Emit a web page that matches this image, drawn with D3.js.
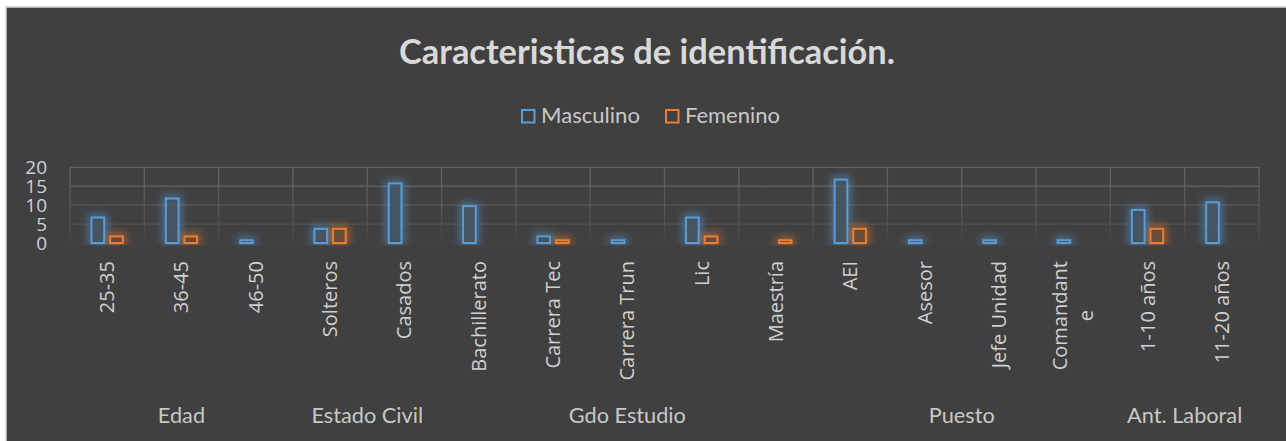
<!DOCTYPE html>
<html><head><meta charset="utf-8">
<script src="https://cdn.jsdelivr.net/npm/d3@7"></script>
<style>html,body{margin:0;padding:0;background:#fff;overflow:hidden}</style>
</head><body><svg id="c" width="1286" height="441"></svg>
<script>
const categories = ["25-35","36-45","46-50","Solteros","Casados","Bachillerato","Carrera Tec","Carrera Trun","Lic","Maestría","AEI","Asesor","Jefe Unidad","Comandante","1-10 años","11-20 años"];
const categoryLabels = ["25-35","36-45","46-50","Solteros","Casados","Bachillerato","Carrera Tec","Carrera Trun","Lic","Maestría","AEI","Asesor","Jefe Unidad","Comandant\ne","1-10 años","11-20 años"];
const masculino = [7,12,1,4,16,10,2,1,7,0,17,1,1,1,9,11];
const femenino  = [2,2,0,4,0,0,1,0,2,1,4,0,0,0,4,0];
const seriesNames = ["Masculino","Femenino"];
const seriesColors = ["#5b9bd5","#ed7d31"];
const groups = ["Edad","Estado Civil","Gdo Estudio","Puesto","Ant. Laboral"];
const groupStart = [0,3,5,10,14];
const groupEnd = [2,4,9,13,15];
const yTicks = [0,5,10,15,20];
const title = "Caracteristicas de identificación.";

const svg = d3.select("#c");
const defs = svg.append("defs");
const L = 70, R = 1259, T = 167.3, B = 243;

// background
svg.append("rect").attr("x",6).attr("y",7).attr("width",1300).attr("height",450)
  .attr("fill","#404040").attr("stroke","#d4d4d4").attr("stroke-width",1.5);

const x = d3.scaleBand().domain(d3.range(categories.length)).range([L,R]);
const y = d3.scaleLinear().domain([0,20]).range([B,T]);
const xs = d3.scaleBand().domain([0,1]).range([-16.6,16.6]).paddingInner(4/18.6);

// gridline gradient
const g = defs.append("linearGradient").attr("id","gridg").attr("gradientUnits","userSpaceOnUse")
  .attr("x1",0).attr("y1",T).attr("x2",0).attr("y2",B+2);
g.append("stop").attr("offset",0).attr("stop-color","#646464");
g.append("stop").attr("offset",0.6).attr("stop-color","#555555");
g.append("stop").attr("offset",1).attr("stop-color","#424242");

defs.append("filter").attr("id","blur").attr("x","-100%").attr("y","-100%").attr("width","300%").attr("height","300%")
  .append("feGaussianBlur").attr("stdDeviation",4.5);
defs.append("clipPath").attr("id","clipb").append("rect").attr("x",0).attr("y",0).attr("width",1286).attr("height",B+2.5);

const grid = svg.append("g");
grid.selectAll("line.h").data(yTicks).join("line")
  .attr("x1",L).attr("x2",R).attr("y1",d=>y(d)).attr("y2",d=>y(d))
  .attr("stroke","url(#gridg)").attr("stroke-width",1.3);
grid.selectAll("line.v").data(d3.range(categories.length+1)).join("line")
  .attr("x1",d=>d<categories.length?x(d):R).attr("x2",d=>d<categories.length?x(d):R)
  .attr("y1",T).attr("y2",B)
  .attr("stroke","url(#gridg)").attr("stroke-width",1.3);

// y tick labels
svg.append("g").selectAll("text").data(yTicks).join("text")
  .attr("x",47).attr("y",d=>y(d)).attr("dy","0.35em").attr("text-anchor","end")
  .attr("font-family","Open Sans").attr("font-size",19).attr("fill","#d0d0d0")
  .text(d=>d);

// bars
const series = [masculino, femenino];
const barData = [];
series.forEach((vals,s)=>vals.forEach((v,i)=>{ if(v>0) barData.push({i,s,v}); }));
const glowG = svg.append("g").attr("clip-path","url(#clipb)");
glowG.selectAll("rect").data(barData).join("rect")
  .attr("x",d=>x(d.i)+x.bandwidth()/2+xs(d.s)-2.5)
  .attr("width",xs.bandwidth()+5)
  .attr("y",d=>y(d.v)-2.5).attr("height",d=>y(0)-y(d.v)+5)
  .attr("fill",d=>seriesColors[d.s]).attr("opacity",0.55).attr("filter","url(#blur)");
svg.append("g").selectAll("rect").data(barData).join("rect")
  .attr("x",d=>x(d.i)+x.bandwidth()/2+xs(d.s)+1)
  .attr("width",xs.bandwidth()-2)
  .attr("y",d=>y(d.v)+1).attr("height",d=>y(0)-y(d.v)-1)
  .attr("fill","#404040").attr("fill-opacity",0.55)
  .attr("stroke",d=>seriesColors[d.s]).attr("stroke-width",2);

// category labels
const lh = 26;
categoryLabels.forEach((lab,i)=>{
  const lines = lab.split("\n");
  const cx = x(i)+x.bandwidth()/2;
  const gg = svg.append("g").attr("transform",`translate(${cx},261) rotate(-90)`);
  const ts = lines.map((ln,k)=>gg.append("text")
    .attr("y",(k-(lines.length-1)/2)*lh).attr("dy","0.35em")
    .attr("font-family","Open Sans").attr("font-size",20).attr("fill","#d0d0d0")
    .attr("text-anchor","middle").text(ln));
  const maxLen = d3.max(ts,t=>t.node().getComputedTextLength());
  ts.forEach(t=>t.attr("x",-maxLen/2));
});

function fit(sel, target){
  const w = sel.node().getComputedTextLength();
  sel.attr("font-size", parseFloat(sel.attr("font-size"))*target/w);
  return sel;
}

// group labels
groups.forEach((gname,k)=>{
  const cx = (x(groupStart[k]) + x(groupEnd[k]) + x.bandwidth())/2;
  const t = svg.append("text").attr("class","grp").attr("x",cx).attr("y",423).attr("text-anchor","middle")
    .attr("font-family","Lato").attr("font-size",22).attr("fill","#c8c8c8").text(gname);
  if(gname==="Puesto") fit(t,66);
});
{
  const fs = svg.selectAll("text.grp").filter(function(){return d3.select(this).text()==="Puesto";}).attr("font-size");
  svg.selectAll("text.grp").attr("font-size",fs);
}

// title
fit(svg.append("text").attr("x",647).attr("y",64).attr("text-anchor","middle")
  .attr("font-family","Lato").attr("font-weight","bold").attr("font-size",28)
  .attr("fill","#d9d9d9").text(title), 496);

// legend
const legX = [521, 665];
const legW = [99, 95];
seriesNames.forEach((n,s)=>{
  svg.append("rect").attr("x",legX[s]+1).attr("y",110).attr("width",12.5).attr("height",12.5)
    .attr("fill","none").attr("stroke",seriesColors[s]).attr("stroke-width",2);
  fit(svg.append("text").attr("x",legX[s]+20).attr("y",123)
    .attr("font-family","Lato").attr("font-size",20).attr("fill","#c8c8c8").text(n), legW[s]);
});
</script></body></html>
